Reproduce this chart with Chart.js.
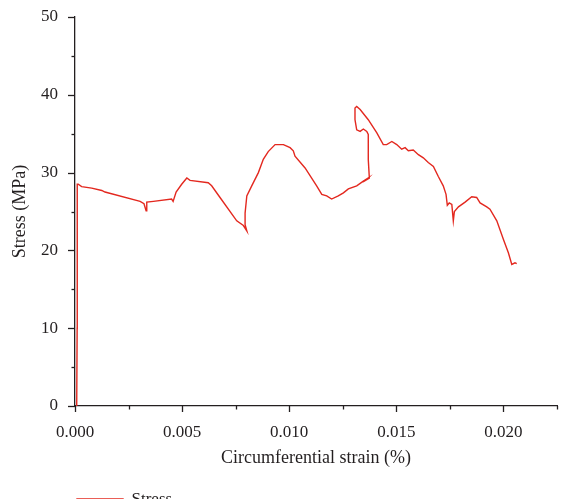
<!DOCTYPE html>
<html>
<head>
<meta charset="utf-8">
<title>Stress vs circumferential strain</title>
<script src="https://cdn.jsdelivr.net/npm/chart.js@4.4.1/dist/chart.umd.min.js"></script>
<style>
  html, body { margin: 0; padding: 0; background: #fff; overflow: hidden; }
  #wrap { width: 571px; height: 518px; }
</style>
</head>
<body>
<div id="wrap"><canvas id="chart" width="571" height="518"></canvas></div>
<script>
// Circumferential strain (%)
const strain = [
  0.00008, 0.00010, 0.00011, 0.00010, 0.00015, 0.00031, 0.00078, 0.00125, 0.00140,
  0.00304, 0.00322, 0.00332, 0.00335, 0.00366, 0.00451, 0.00458, 0.00472, 0.00498,
  0.00522, 0.00537, 0.00622, 0.00638, 0.00677, 0.00755, 0.00786, 0.00802, 0.00794,
  0.00794, 0.00802, 0.00825, 0.00856, 0.00879, 0.00902, 0.00934, 0.00973, 0.01004,
  0.01019, 0.01027, 0.01074, 0.01128, 0.01152, 0.01175, 0.01198, 0.01229, 0.01253,
  0.01276, 0.01315, 0.01346, 0.01369, 0.01362, 0.01374, 0.01369, 0.01369, 0.01362,
  0.01346, 0.01331, 0.01315, 0.01307, 0.01307, 0.01315, 0.01331, 0.01369, 0.01409,
  0.01439, 0.01455, 0.01479, 0.01502, 0.01525, 0.01541, 0.01556, 0.01579, 0.01603,
  0.01626, 0.01649, 0.01673, 0.01696, 0.01719, 0.01732, 0.01738, 0.01747, 0.01759,
  0.01766, 0.01771, 0.01790, 0.01821, 0.01852, 0.01875, 0.01891, 0.01922, 0.01937,
  0.01969, 0.02000, 0.02023, 0.02039, 0.02054, 0.02062
];

// Stress (MPa)
const stress = [
  0.0, 10.0, 20.0, 28.5, 28.5, 28.2, 28.0, 27.7, 27.5,
  26.3, 26.0, 25.1, 26.2, 26.3, 26.6, 26.3, 27.5, 28.5,
  29.3, 29.0, 28.7, 28.3, 26.8, 23.8, 23.2, 22.5, 23.3,
  24.8, 27.0, 28.3, 30.0, 31.7, 32.7, 33.6, 33.6, 33.2,
  32.8, 32.1, 30.6, 28.3, 27.2, 27.0, 26.6, 27.0, 27.4,
  27.9, 28.3, 28.9, 29.3, 29.1, 29.3, 31.7, 34.9, 35.3,
  35.6, 35.3, 35.5, 36.8, 38.3, 38.5, 38.1, 36.8, 35.1,
  33.6, 33.6, 34.0, 33.6, 33.0, 33.2, 32.8, 32.9, 32.3,
  31.9, 31.3, 30.8, 29.5, 28.3, 27.2, 25.8, 26.1, 25.9,
  23.8, 25.0, 25.6, 26.2, 26.9, 26.8, 26.1, 25.6, 25.3,
  23.8, 21.4, 19.7, 18.2, 18.4, 18.3
];

const xTickLabels = ["0.000", "0.005", "0.010", "0.015", "0.020"];
const yTickLabels = ["0", "10", "20", "30", "40", "50"];

const points = strain.map((s, i) => ({ x: s, y: stress[i] }));

const FONT = "'Liberation Serif', 'Times New Roman', serif";
const TEXT = "#231f20";

const isMajorX = (v) => Math.abs(v / 0.005 - Math.round(v / 0.005)) < 1e-6;

// Major / minor tick marks drawn outward from both axes
const axisTicks = {
  id: "axisTicks",
  afterDraw(chart) {
    const { ctx, chartArea, scales } = chart;
    ctx.save();
    ctx.strokeStyle = TEXT;
    ctx.lineWidth = 1.3;
    scales.x.ticks.forEach((t) => {
      const px = Math.round(scales.x.getPixelForValue(t.value)) + 0.5;
      ctx.beginPath();
      ctx.moveTo(px, chartArea.bottom);
      ctx.lineTo(px, chartArea.bottom + (isMajorX(t.value) ? 6 : 3.5));
      ctx.stroke();
    });
    scales.y.ticks.forEach((t) => {
      const py = Math.round(scales.y.getPixelForValue(t.value)) + 0.5;
      ctx.beginPath();
      ctx.moveTo(chartArea.left, py);
      ctx.lineTo(chartArea.left - (t.value % 10 === 0 ? 7 : 3.5), py);
      ctx.stroke();
    });
    ctx.restore();
  }
};

new Chart(document.getElementById("chart"), {
  type: "scatter",
  data: {
    datasets: [{
      label: "Stress",
      data: points,
      showLine: true,
      borderColor: "#e3281f",
      backgroundColor: "#ec6a62",
      borderWidth: 1.4,
      pointRadius: 0,
      tension: 0
    }]
  },
  options: {
    responsive: false,
    animation: false,
    devicePixelRatio: 1,
    layout: { padding: { top: 17, right: 14, left: 0, bottom: 0 } },
    plugins: {
      tooltip: { enabled: false },
      legend: {
        position: "bottom",
        align: "start",
        fullSize: false,
        labels: {
          font: { family: FONT, size: 17 },
          color: TEXT,
          boxWidth: 46,
          boxHeight: 1,
          padding: 2
        }
      }
    },
    scales: {
      x: {
        type: "linear",
        min: 0,
        max: 0.0225,
        grid: { display: false },
        border: { display: true, color: TEXT, width: 1.3 },
        afterFit: (s) => { s.height = 83; },
        ticks: {
          stepSize: 0.0025,
          autoSkip: false,
          maxRotation: 0,
          padding: 8,
          color: TEXT,
          font: { family: FONT, size: 17 },
          callback: (v) => {
            const lbl = v.toFixed(3);
            return xTickLabels.includes(lbl) && isMajorX(v) ? lbl : "";
          }
        },
        title: {
          display: true,
          text: "Circumferential strain (%)",
          color: TEXT,
          font: { family: FONT, size: 18 },
          padding: { top: 0, bottom: 20 }
        }
      },
      y: {
        type: "linear",
        min: 0,
        max: 50,
        // invisible tick marks only reserve the gap between labels and axis
        grid: {
          display: true,
          drawOnChartArea: false,
          drawTicks: true,
          tickLength: 17,
          tickColor: "rgba(0,0,0,0)"
        },
        border: { display: true, color: TEXT, width: 1.3 },
        afterFit: (s) => { s.width = 75; },
        ticks: {
          stepSize: 5,
          autoSkip: false,
          padding: 0,
          color: TEXT,
          font: { family: FONT, size: 17 },
          callback: (v) => (yTickLabels.includes(String(v)) ? String(v) : "")
        },
        title: {
          display: true,
          text: "Stress (MPa)",
          color: TEXT,
          font: { family: FONT, size: 18 },
          padding: { top: 9, bottom: 0 }
        }
      }
    }
  },
  plugins: [axisTicks]
});
</script>
</body>
</html>
